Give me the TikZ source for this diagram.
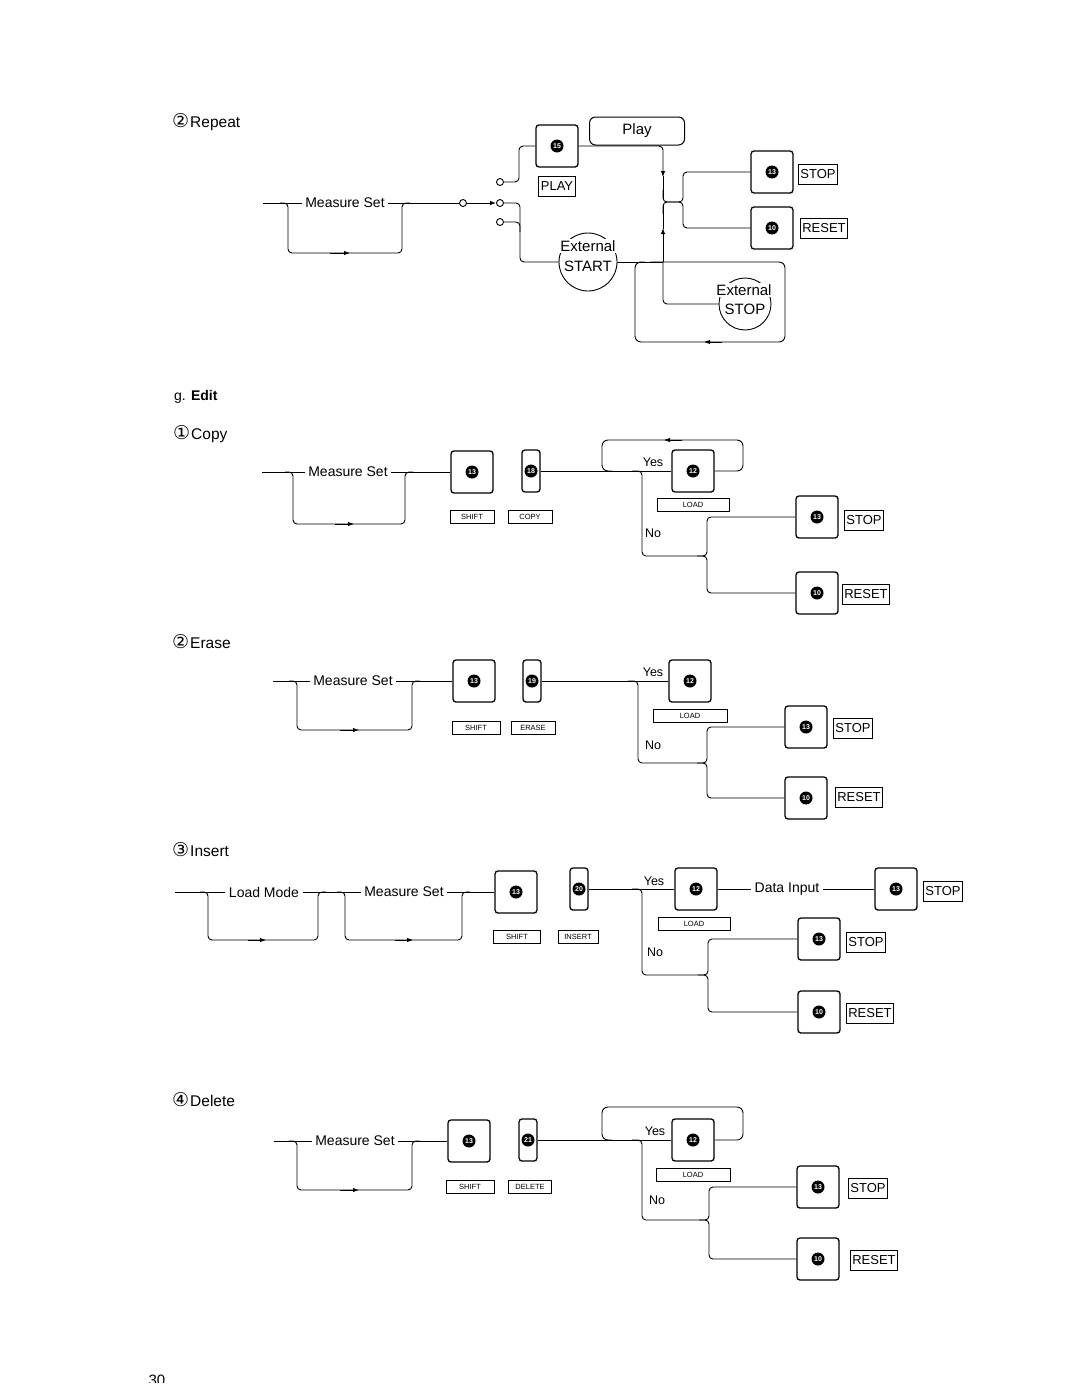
\documentclass[tikz,border=0pt]{standalone}
\usepackage{fontspec}
\setmainfont{Liberation Sans}
\newfontfamily\circfont{DejaVu Sans}
\usetikzlibrary{arrows.meta}
\newcommand{\fsz}[1]{\fontsize{#1}{#1}\selectfont}
\newcommand{\cnum}[1]{{\circfont\fsz{19}#1}\hspace{1pt}}

\begin{document}
\begin{tikzpicture}[x=1pt,y=-1pt, font=\fsz{14},
  wire/.style={line width=0.9pt},
  keybox/.style={draw, line width=1.3pt, rounded corners=3pt, minimum width=42pt, minimum height=42pt, inner sep=0pt, text=white, font=\fsz{7}\bfseries, path picture={\fill[black] (path picture bounding box.center) circle[radius=6.5pt];}},
  narrowkey/.style={keybox, minimum width=18pt},
  keylabel/.style={draw, line width=1pt, inner sep=2pt, minimum height=20pt, font=\fsz{13}},
  smalltag/.style={draw, line width=0.9pt, inner sep=1pt, minimum width=44pt, minimum height=13pt, font=\fsz{7.5}},
  jackport/.style={circle, draw, line width=0.9pt, inner sep=0pt, minimum size=7pt},
  extcircle/.style={circle, draw, line width=0.9pt, inner sep=0pt},
  heading/.style={anchor=west, inner sep=0pt, font=\fsz{15.5}},
  >={Latex[length=6pt,width=4.5pt]}]
\useasboundingbox (0,0) rectangle (1080,1397);

%% Repeat
\node[heading] (hrep) at (172,122) {\cnum{②}Repeat};
\node (rms) at (345,203) {Measure Set};
\draw[wire] (263,203) -- (rms.west);
\draw[wire, rounded corners=4] (280,203) -- (288,203) -- (288,253) -- (402,253) -- (402,203) -- (410,203);
\draw[wire,->] (330,253) -- (350,253);
\node[jackport] (rp0) at (463,203) {};
\node[jackport] (rp1) at (500,182) {};
\node[jackport] (rp2) at (500,203) {};
\node[jackport] (rp3) at (500,222) {};
\draw[wire] (rms.east) -- (rp0);
\draw[wire,->] (rp0) -- (rp2);

\node[keybox] (rk15) at (557,146) {15};
\node[keylabel] (rplay) at (557,186) {PLAY};
\node[draw, line width=1pt, rounded corners=6pt, minimum width=95pt, minimum height=28pt, font=\fsz{15}] (rplaybox) at (637,131) {Play};
\draw[wire, rounded corners=4] (rp1) -- (519,182) -- (519,146) -- (rk15.west);
\draw[wire, rounded corners=4] (rp2) -- (520,203) -- (520,262) -- (559,262);
\draw[wire, rounded corners=4] (rp3) -- (520,222) -- (520,232);

% external start
\node[extcircle, minimum size=58pt] (rstart) at (588,262) {};
\node[fill=white, inner sep=1pt, font=\fsz{15}] (rstarta) at (588,246) {External};
\node[fill=white, inner sep=1pt, font=\fsz{15}] (rstartb) at (588,266) {START};

% play line down, start line up
\draw[wire, ->, rounded corners=4] (rk15.east) -- (663,146) -- (663,177);
\draw[wire] (663,176) -- (663,200);
\draw[wire] (rstart.east) -- (663,262);
\draw[wire, ->] (663,262) -- (663,228);
\draw[wire] (663,229) -- (663,204);

\node[keybox] (rk13) at (772,172) {13};
\node[keylabel] (rstop) at (818,174) {STOP};
\node[keybox] (rk10) at (772,228) {10};
\node[keylabel] (rreset) at (824,228) {RESET};
\draw[wire, rounded corners=4] (663,190) -- (663,202) -- (683,202) -- (683,172) -- (rk13.west);
\draw[wire, rounded corners=4] (663,214) -- (663,202) -- (683,202) -- (683,228) -- (rk10.west);

% external stop loop
\node[extcircle, minimum size=52pt] (rstop2) at (745,304) {};
\node[fill=white, inner sep=1pt, font=\fsz{15}] (rstop2a) at (744,290) {External};
\node[fill=white, inner sep=1pt, font=\fsz{15}] (rstop2b) at (745,309) {STOP};
\draw[wire, rounded corners=4] (663,262) -- (663,304) -- (rstop2.west);
\draw[wire, rounded corners=6] (650,262) -- (785,262) -- (785,342) -- (635,342) -- (635,262) -- (645,262);
\draw[wire,->] (722,342) -- (704,342);

%% Edit
\node[heading, font=\fsz{14}] (hedit) at (174,397) {g. \textbf{Edit}};

%% Copy
\node[heading] (hcopy) at (173,434) {\cnum{①}Copy};
\node (cms) at (348,472) {Measure Set};
\draw[wire] (262,472) -- (cms.west);
\draw[wire, rounded corners=4] (285,472) -- (293,472) -- (293,524) -- (405,524) -- (405,472) -- (413,472);
\draw[wire,->] (335,524) -- (354,524);
\node[keybox] (ck13) at (472,472) {13};
\node[narrowkey] (ck18) at (531,471) {18};
\node[smalltag] (cshift) at (472,517) {SHIFT};
\node[smalltag] (ccopy) at (530,517) {COPY};
\draw[wire] (cms.east) -- (ck13.west);

\node[keybox] (ck12) at (693,471) {12};
\node[smalltag, minimum width=72pt] (cload) at (693,505) {LOAD};
\node[font=\fsz{12.5}] (cyes) at (653,462) {Yes};
\node[font=\fsz{12.5}] (cno) at (653,533) {No};
\draw[wire] (ck18.east) -- (ck12.west);
\draw[wire, rounded corners=6] (ck12.east) -- (743,471) -- (743,440) -- (602,440) -- (602,471) -- (612,471);
\draw[wire,->] (682,440) -- (664,440);
\node[keybox] (ck13b) at (817,517) {13};
\node[keylabel] (cstop) at (864,520) {STOP};
\node[keybox] (ck10) at (817,593) {10};
\node[keylabel] (creset) at (866,594) {RESET};
\draw[wire, rounded corners=4] (632,471) -- (642,471) -- (642,556) -- (707,556) -- (707,517) -- (ck13b.west);
\draw[wire, rounded corners=4] (697,556) -- (707,556) -- (707,593) -- (ck10.west);

%% Erase
\node[heading] (herase) at (172,642) {\cnum{②}Erase};
\node (ems) at (353,681) {Measure Set};
\draw[wire] (273,681) -- (ems.west);
\draw[wire, rounded corners=4] (289,681) -- (297,681) -- (297,730) -- (412,730) -- (412,681) -- (420,681);
\draw[wire,->] (340,730) -- (359,730);
\node[keybox] (ek13) at (474,681) {13};
\node[narrowkey] (ek19) at (532,681) {19};
\node[smalltag, minimum width=48pt] (eshift) at (476,728) {SHIFT};
\node[smalltag] (eerase) at (533,728) {ERASE};
\draw[wire] (ems.east) -- (ek13.west);

\node[keybox] (ek12) at (690,681) {12};
\node[smalltag, minimum width=74pt] (eload) at (690,716) {LOAD};
\node[font=\fsz{12.5}] (eyes) at (653,672) {Yes};
\node[font=\fsz{12.5}] (eno) at (653,745) {No};
\draw[wire] (ek19.east) -- (ek12.west);
\node[keybox] (ek13b) at (806,727) {13};
\node[keylabel] (estop) at (853,728) {STOP};
\node[keybox] (ek10) at (806,798) {10};
\node[keylabel] (ereset) at (859,797) {RESET};
\draw[wire, rounded corners=4] (628,681) -- (638,681) -- (638,763) -- (707,763) -- (707,727) -- (ek13b.west);
\draw[wire, rounded corners=4] (697,763) -- (707,763) -- (707,798) -- (ek10.west);

%% Insert
\node[heading] (hins) at (172,850) {\cnum{③}Insert};
\node (ilm) at (264,892) {Load Mode};
\node (ims) at (404,892) {Measure Set};
\draw[wire] (175,892) -- (ilm.west);
\draw[wire] (ilm.east) -- (ims.west);
\draw[wire, rounded corners=4] (200,892) -- (208,892) -- (208,940) -- (318,940) -- (318,892) -- (326,892);
\draw[wire,->] (248,940) -- (266,940);
\draw[wire, rounded corners=4] (337,892) -- (345,892) -- (345,940) -- (462,940) -- (462,892) -- (470,892);
\draw[wire,->] (395,940) -- (413,940);
\node[keybox] (ik13) at (516,892) {13};
\node[narrowkey] (ik20) at (579,889) {20};
\node[smalltag, minimum width=47pt] (ishift) at (517,937) {SHIFT};
\node[smalltag, minimum width=40pt] (iinsert) at (578,937) {INSERT};
\draw[wire] (ims.east) -- (ik13.west);

\node[keybox] (ik12) at (696,889) {12};
\node[smalltag, minimum width=72pt] (iload) at (694,924) {LOAD};
\node[font=\fsz{12.5}] (iyes) at (654,881) {Yes};
\node[font=\fsz{12.5}] (ino) at (655,952) {No};
\draw[wire] (ik20.east) -- (ik12.west);
\node (idata) at (787,889) {Data Input};
\node[keybox] (ik13c) at (896,889) {13};
\node[keylabel] (itopstop) at (943,891) {STOP};
\draw[wire] (ik12.east) -- (idata.west);
\draw[wire] (idata.east) -- (ik13c.west);
\node[keybox] (ik13b) at (819,939) {13};
\node[keylabel] (istop) at (866,942) {STOP};
\node[keybox] (ik10) at (819,1012) {10};
\node[keylabel] (ireset) at (870,1013) {RESET};
\draw[wire, rounded corners=4] (632,889) -- (642,889) -- (642,975) -- (708,975) -- (708,939) -- (ik13b.west);
\draw[wire, rounded corners=4] (698,975) -- (708,975) -- (708,1012) -- (ik10.west);

%% Delete
\node[heading] (hdel) at (172,1100) {\cnum{④}Delete};
\node (dms) at (355,1141) {Measure Set};
\draw[wire] (274,1141) -- (dms.west);
\draw[wire, rounded corners=4] (289,1141) -- (297,1141) -- (297,1190) -- (412,1190) -- (412,1141) -- (420,1141);
\draw[wire,->] (340,1190) -- (359,1190);
\node[keybox] (dk13) at (469,1141) {13};
\node[narrowkey] (dk21) at (528,1140) {21};
\node[smalltag, minimum width=48pt] (dshift) at (470,1187) {SHIFT};
\node[smalltag, minimum width=43pt] (ddelete) at (530,1187) {DELETE};
\draw[wire] (dms.east) -- (dk13.west);

\node[keybox] (dk12) at (693,1140) {12};
\node[smalltag, minimum width=74pt] (dload) at (693,1175) {LOAD};
\node[font=\fsz{12.5}] (dyes) at (655,1131) {Yes};
\node[font=\fsz{12.5}] (dno) at (657,1200) {No};
\draw[wire] (dk21.east) -- (dk12.west);
\draw[wire, rounded corners=6] (dk12.east) -- (743,1140) -- (743,1107) -- (602,1107) -- (602,1140) -- (612,1140);
\node[keybox] (dk13b) at (818,1187) {13};
\node[keylabel] (dstop) at (868,1188) {STOP};
\node[keybox] (dk10) at (818,1259) {10};
\node[keylabel] (dreset) at (874,1260) {RESET};
\draw[wire, rounded corners=4] (632,1140) -- (642,1140) -- (642,1220) -- (709,1220) -- (709,1187) -- (dk13b.west);
\draw[wire, rounded corners=4] (699,1220) -- (709,1220) -- (709,1259) -- (dk10.west);

% page number, cut off at the foot
\begin{scope}
\clip (140,1370) rectangle (175,1382);
\node[anchor=north, inner sep=0pt, font=\fsz{15}] (pagenum) at (157,1375) {30};
\end{scope}
\end{tikzpicture}
\end{document}
